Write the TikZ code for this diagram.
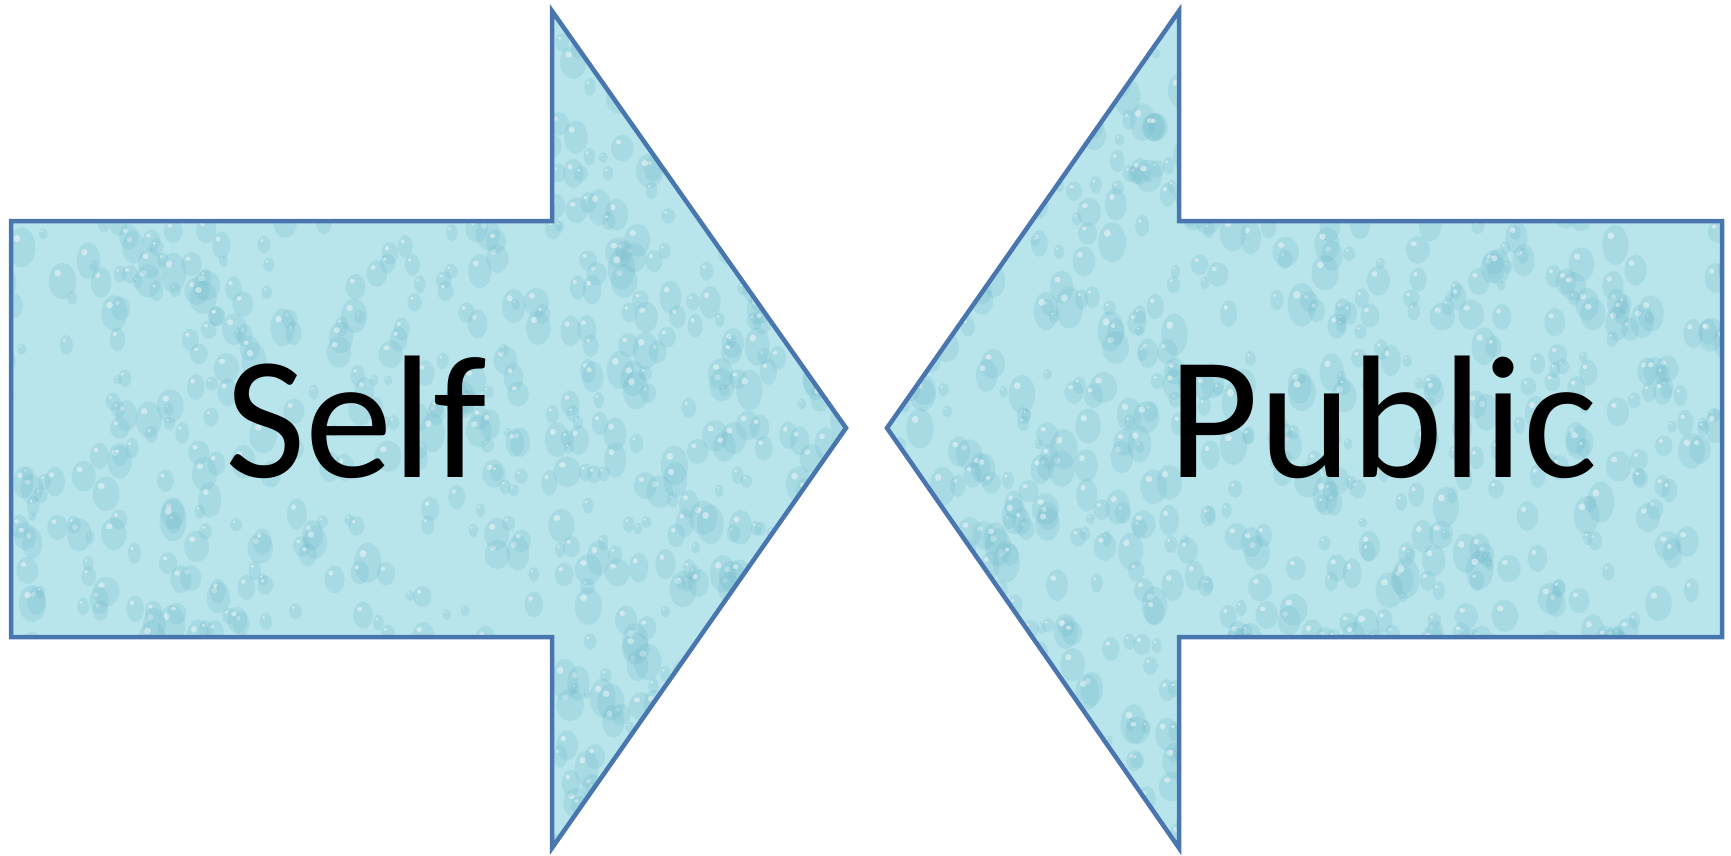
\documentclass[tikz,border=0pt]{standalone}
\usepackage{fontspec}
\setmainfont{Carlito}
\definecolor{edgeblue}{RGB}{74,118,176}
\definecolor{water}{RGB}{184,229,236}
\definecolor{dropcol}{RGB}{118,188,204}
\newcommand{\leftshape}{(11,221) -- (552,221) -- (552,11) -- (846,428) -- (552,848) -- (552,637) -- (11,637) -- cycle}
\newcommand{\rightshape}{(1722,221) -- (1179,221) -- (1179,11) -- (887,428) -- (1179,848) -- (1179,637) -- (1722,637) -- cycle}
% #1 = x offset, #2 = seed
\newcommand{\dropfield}[2]{%
  \pgfmathsetseed{#2}%
  \foreach \k in {1,...,950}{%
    \pgfmathsetmacro{\dx}{#1+rnd*850}%
    \pgfmathsetmacro{\dy}{rnd*856}%
    \pgfmathsetmacro{\rx}{4+rnd*10}%
    \pgfmathsetmacro{\ry}{\rx*(1.1+rnd*0.5)}%
    \fill[dropcol,opacity=0.25] (\dx,\dy) ellipse [x radius=\rx, y radius=\ry];
    \fill[white,opacity=0.45] (\dx-\rx*0.35,\dy-\ry*0.45) ellipse [x radius=\rx*0.25, y radius=\ry*0.18];
  }}
\begin{document}
\begin{tikzpicture}[x=1pt,y=-1pt,
  arrowshape/.style={draw=edgeblue, line width=4.5pt, line join=miter},
  bigtext/.style={font=\fontsize{175}{200}\selectfont, anchor=base, inner sep=0pt, text=black}]
\useasboundingbox (0,0) rectangle (1731,856);
% left arrow
\fill[water] \leftshape;
\begin{scope}
  \clip \leftshape;
  \dropfield{0}{17}
\end{scope}
\path[arrowshape] \leftshape;
% right arrow
\fill[water] \rightshape;
\begin{scope}
  \clip \rightshape;
  \dropfield{880}{23}
\end{scope}
\path[arrowshape] \rightshape;
\node[bigtext] (self) at (356,477) {Self};
\node[bigtext] (public) at (1383,477) {Public};
\end{tikzpicture}
\end{document}
